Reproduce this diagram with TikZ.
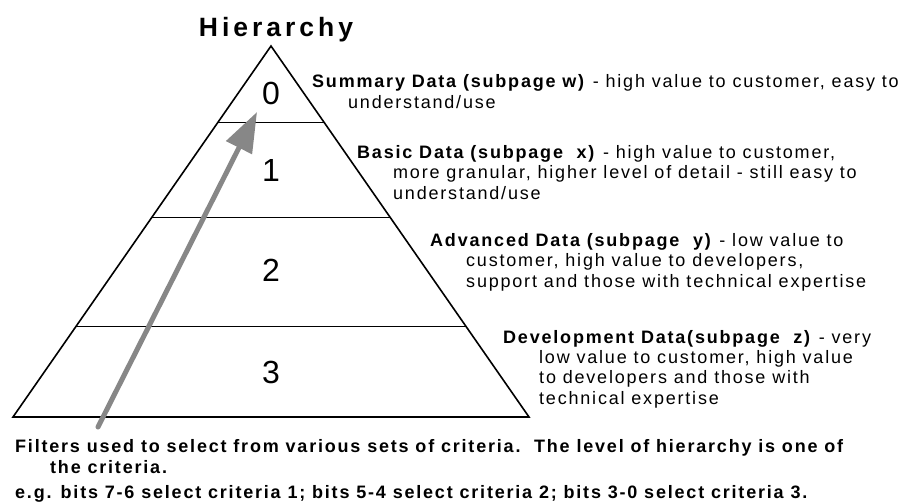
\documentclass[tikz,border=0pt]{standalone}
\usepackage{fontspec}
\setmainfont{Liberation Sans}
\newfontfamily\descfont[LetterSpace=10]{Liberation Sans}
\newfontfamily\titlefont[LetterSpace=15]{Liberation Sans}
\usetikzlibrary{arrows.meta,calc}
\definecolor{arrowgray}{gray}{0.53}

\begin{document}
\begin{tikzpicture}
    [x=1pt,y=-1pt,
    pyramid/.style={black,line width=1.6pt,line join=miter},
    level line/.style={black,line width=1pt},
    digit/.style={font=\fontsize{32}{32}\selectfont},
    heading/.style={anchor=base,inner sep=0pt,font=\titlefont\fontsize{26.5}{26.5}\selectfont\bfseries},
    desc/.style={anchor=base west,align=left,inner sep=0pt,font=\descfont\fontsize{18}{20.3}\selectfont},
    note/.style={desc,font=\descfont\fontsize{18}{21}\selectfont\bfseries},
    filter arrow/.style={-{Triangle[length=40pt,width=28pt]},arrowgray,line width=5pt,line cap=round}]

\useasboundingbox (0,0) rectangle (908,503);

%corners of the pyramid
\coordinate (apex) at (271,46);
\coordinate (base left) at (13,417);
\coordinate (base right) at (529,417);

%draw pyramid and its levels
\draw[pyramid] (apex) -- (base left) -- (base right) -- cycle;
\foreach \t in {0.205,0.461,0.755}
    \draw[level line] ($(apex)!\t!(base left)$) -- ($(apex)!\t!(base right)$);

\node[heading] (title) at (276,37) {Hierarchy};

%level numbers
\node[digit] (level0) at (271,93) {0};
\node[digit] (level1) at (271,170) {1};
\node[digit] (level2) at (271,270) {2};
\node[digit] (level3) at (271,372) {3};

%filter arrow
\coordinate (filter tail) at (98,427);
\coordinate (filter tip) at (257,112);
\draw[filter arrow] (filter tail) -- (filter tip);

%level descriptions (placed at the baseline of their last line)
\node[desc] (summary) at (312,108) {\textbf{Summary Data (subpage w)} - high value to customer, easy to\\
    \hspace*{36pt}understand/use};
\node[desc] (basic) at (357,199) {\textbf{Basic Data (subpage\ \ x)} - high value to customer,\\
    \hspace*{36pt}more granular, higher level of detail - still easy to\\
    \hspace*{36pt}understand/use};
\node[desc] (advanced) at (430,287) {\textbf{Advanced Data (subpage\ \ y)} - low value to\\
    \hspace*{36pt}customer, high value to developers,\\
    \hspace*{36pt}support and those with technical expertise};
\node[desc] (development) at (503,404) {\textbf{Development Data(subpage\ \ z)} - very\\
    \hspace*{36pt}low value to customer, high value\\
    \hspace*{36pt}to developers and those with\\
    \hspace*{36pt}technical expertise};

%notes below
\node[note] (filters) at (15,473) {Filters used to select from various sets of criteria.\ \ The level of hierarchy is one of\\
    \hspace*{35pt}the criteria.};
\node[note] (bits) at (15,498) {e.g. bits 7-6 select criteria 1; bits 5-4 select criteria 2; bits 3-0 select criteria 3.};

\end{tikzpicture}
\end{document}
